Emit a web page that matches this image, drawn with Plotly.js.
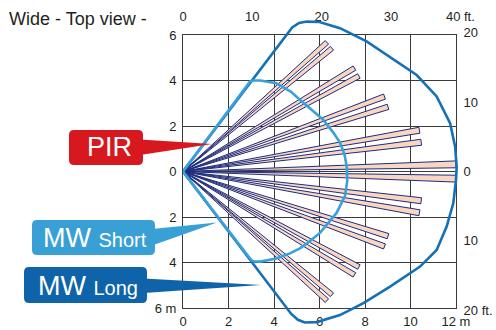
<!DOCTYPE html>
<html><head><meta charset="utf-8">
<script src="https://cdn.plot.ly/plotly-3.0.1.min.js"></script>
<style>html,body{margin:0;padding:0;background:#fff;} #chart{width:496px;height:330px;}</style>
</head><body><div id="chart"></div>
<script>
// ---------- data ----------
const xTickVals = [0, 2, 4, 6, 8, 10, 12];
const xTickText = ['0', '2', '4', '6', '8', '10', '12 m'];
const yTickVals = [-6, -4, -2, 0, 2, 4, 6];
const yTickText = ['6 m', '4', '2', '0', '2', '4', '6'];
const ftTopVals = [0, 10, 20, 30, 40];
const ftTopText = ['0', '10', '20', '30', '40 ft.'];
const ftRightVals = [-20, -10, 0, 10, 20];
const ftRightText = ['20 ft.', '10', '0', '10', '20'];

// PIR detection beams: centre angle (deg) and reach (m)
const beamAngles  = [41.9, 39.6, 31.1, 28.5, 20.4, 17.5, 9.9, 7.0, 1.5, -1.5, -7.0, -9.9, -17.5, -20.4, -28.5, -31.1, -39.6, -41.9];
const beamLengths = [8.5, 8.5, 8.8, 8.8, 9.45, 9.45, 10.55, 10.55, 12.0, 12.0, 10.55, 10.55, 9.45, 9.45, 8.8, 8.8, 8.5, 8.5];

// MW short range outline (m)
const mwShortX = [0, 2.95, 3.1, 3.4, 4.1, 4.75, 5.15, 6.15, 6.6, 6.9, 7.1, 7.2, 7.22, 7.12, 6.75, 6.02, 5.5, 5.14, 4.7, 4.1, 3.4, 3.1, 3.0, 0];
const mwShortY = [0, 3.96, 4.0, 4.0, 3.88, 3.5, 3.14, 2.29, 1.72, 1.27, 0.75, 0.2, -0.4, -1.08, -1.82, -2.7, -3.12, -3.38, -3.6, -3.82, -3.96, -3.95, -3.89, 0];

// MW long range outline (m)
const mwLongX = [0, 4.8, 5.1, 5.45, 6.0, 6.9, 8.07, 9.39, 10.27, 11.15, 11.74, 11.96, 12.03, 12.0, 11.88, 11.59, 11.15, 10.42, 9.1, 7.93, 6.9, 5.88, 5.35, 5.05, 4.75, 0];
const mwLongY = [0, 6.33, 6.53, 6.59, 6.57, 6.3, 5.72, 4.84, 4.24, 3.3, 2.12, 1.1, 0.2, -0.37, -1.4, -2.42, -3.45, -4.18, -5.06, -5.79, -6.31, -6.62, -6.64, -6.52, -6.25, 0];

// ---------- layout geometry (pixels) ----------
const W = 496, H = 330;
const GL = 183, GR = 456, GT = 35, GB = 308;   // grid box
const S = (GR - GL) / 12;                      // px per metre
const Y0 = (GT + GB) / 2;
const FT = 0.3048;
const EXT = 8;                                  // extra px for the ft axis so 20 ft fits
const ML = 183, MR = 8, MT = 4, MB = 4;
const PW = W - ML - MR, PH = H - MT - MB;
const dx = px => (px - ML) / PW;
const dy = py => (H - MB - py) / PH;

const FONT = 'Liberation Sans, Arial, Helvetica, sans-serif';
const TXT = '#231f20';
const GRIDC = '#3a3a3a';

const traces = [];
// anchor traces for the axis subplots
traces.push({x: [0], y: [0], xaxis: 'x', yaxis: 'y', mode: 'markers', marker: {opacity: 0}, hoverinfo: 'skip', showlegend: false});
traces.push({x: [0], y: [0], xaxis: 'x2', yaxis: 'y2', mode: 'markers', marker: {opacity: 0}, hoverinfo: 'skip', showlegend: false});

// beams
const HALF = 0.72 * Math.PI / 180;
beamAngles.forEach((ang, i) => {
  const a = ang * Math.PI / 180, L = beamLengths[i];
  traces.push({
    x: [0, L * Math.cos(a + HALF), L * Math.cos(a - HALF), 0],
    y: [0, L * Math.sin(a + HALF), L * Math.sin(a - HALF), 0],
    xaxis: 'x3', yaxis: 'y3', mode: 'lines', fill: 'toself',
    fillcolor: '#f9d6c2', line: {color: '#1e2c7c', width: 1},
    hoverinfo: 'skip', showlegend: false
  });
});
traces.push({x: mwLongX, y: mwLongY, xaxis: 'x3', yaxis: 'y3', mode: 'lines',
  line: {color: '#1570b5', width: 2.6}, hoverinfo: 'skip', showlegend: false});
traces.push({x: mwShortX, y: mwShortY, xaxis: 'x3', yaxis: 'y3', mode: 'lines',
  line: {color: '#39a1da', width: 2.6}, hoverinfo: 'skip', showlegend: false});

// ---------- callouts ----------
function rrect(x0, y0, x1, y1, r) {
  const p = (x, y) => dx(x) + ',' + dy(y);
  return 'M' + p(x0 + r, y0) + ' L' + p(x1 - r, y0) + ' Q' + p(x1, y0) + ' ' + p(x1, y0 + r) +
    ' L' + p(x1, y1 - r) + ' Q' + p(x1, y1) + ' ' + p(x1 - r, y1) +
    ' L' + p(x0 + r, y1) + ' Q' + p(x0, y1) + ' ' + p(x0, y1 - r) +
    ' L' + p(x0, y0 + r) + ' Q' + p(x0, y0) + ' ' + p(x0 + r, y0) + ' Z';
}
function tri(a, b, c) {
  const p = (q) => dx(q[0]) + ',' + dy(q[1]);
  return 'M' + p(a) + ' L' + p(b) + ' L' + p(c) + ' Z';
}
const callouts = [
  {box: [69, 130, 143, 165], ptr: [[140, 139.5], [140, 155], [212, 144]], color: '#d7191f'},
  {box: [32, 220, 155, 255], ptr: [[152, 229], [152, 245.5], [217, 222.5]], color: '#39a0d6'},
  {box: [24, 267, 147, 303], ptr: [[144, 278.5], [144, 293], [261, 285]], color: '#0f64a9'}
];
const shapes = [];
callouts.forEach(c => {
  shapes.push({type: 'path', xref: 'paper', yref: 'paper', path: rrect(c.box[0], c.box[1], c.box[2], c.box[3], 5),
    fillcolor: c.color, line: {width: 0}, layer: 'above'});
  shapes.push({type: 'path', xref: 'paper', yref: 'paper', path: tri(c.ptr[0], c.ptr[1], c.ptr[2]),
    fillcolor: c.color, line: {width: 0}, layer: 'above'});
});

const annotations = [
  {text: 'PIR', x: dx(109), y: dy(147), font: {size: 27, color: '#fff', family: FONT}},
  {text: 'MW <span style="font-size:20px">Short</span>', x: dx(95), y: dy(238), font: {size: 27, color: '#fff', family: FONT}},
  {text: 'MW <span style="font-size:20px">Long</span>', x: dx(88), y: dy(286), font: {size: 27, color: '#fff', family: FONT}}
].map(a => Object.assign({xref: 'paper', yref: 'paper', xanchor: 'center', yanchor: 'middle', showarrow: false}, a));

const tickFont = {size: 13, color: TXT, family: FONT};
const layout = {
  width: W, height: H,
  margin: {l: ML, r: MR, t: MT, b: MB, pad: 0},
  paper_bgcolor: '#ffffff', plot_bgcolor: 'rgba(0,0,0,0)',
  showlegend: false,
  title: {text: 'Wide - Top view -', font: {size: 18, color: TXT, family: FONT},
    xref: 'container', yref: 'container', x: 9 / W, xanchor: 'left', y: 1 - 18.5 / H, yanchor: 'middle'},
  xaxis: {domain: [dx(GL), dx(GR)], anchor: 'y', range: [0, 12], tickmode: 'array', tickvals: xTickVals, ticktext: xTickText,
    showgrid: true, gridcolor: GRIDC, gridwidth: 1, showline: true, mirror: true, linecolor: GRIDC, linewidth: 1,
    zeroline: false, ticks: 'outside', ticklen: 1, tickcolor: 'rgba(0,0,0,0)', tickfont: tickFont, fixedrange: true},
  yaxis: {domain: [dy(GB), dy(GT)], anchor: 'x', range: [-6, 6], tickmode: 'array', tickvals: yTickVals, ticktext: yTickText,
    showgrid: true, gridcolor: GRIDC, gridwidth: 1, showline: true, mirror: true, linecolor: GRIDC, linewidth: 1,
    zeroline: false, ticks: 'outside', ticklen: 3, tickcolor: 'rgba(0,0,0,0)', tickfont: tickFont, fixedrange: true},
  xaxis2: {domain: [dx(GL), dx(GL + 41 * FT * S)], anchor: 'y2', side: 'top', range: [0, 41],
    tickmode: 'array', tickvals: ftTopVals, ticktext: ftTopText, showgrid: false, showline: false, zeroline: false,
    ticks: 'outside', ticklen: 8 - EXT, tickcolor: 'rgba(0,0,0,0)', tickfont: tickFont, fixedrange: true},
  yaxis2: {domain: [dy(GB + EXT), dy(GT - EXT)], anchor: 'free', position: dx(GR), side: 'right',
    range: [-(6 + EXT / S) / FT, (6 + EXT / S) / FT],
    tickmode: 'array', tickvals: ftRightVals, ticktext: ftRightText, showgrid: false, showline: false, zeroline: false,
    ticks: 'outside', ticklen: 4, tickcolor: 'rgba(0,0,0,0)', tickfont: tickFont, fixedrange: true},
  xaxis3: {domain: [dx(GL), dx(484)], anchor: 'y3', range: [0, (484 - GL) / S], visible: false, fixedrange: true},
  yaxis3: {domain: [dy(326), dy(8)], anchor: 'x3', range: [(Y0 - 326) / S, (Y0 - 8) / S], visible: false, fixedrange: true},
  shapes: shapes,
  annotations: annotations
};

Plotly.newPlot('chart', traces, layout, {staticPlot: true, displayModeBar: false});
</script>
</body></html>
